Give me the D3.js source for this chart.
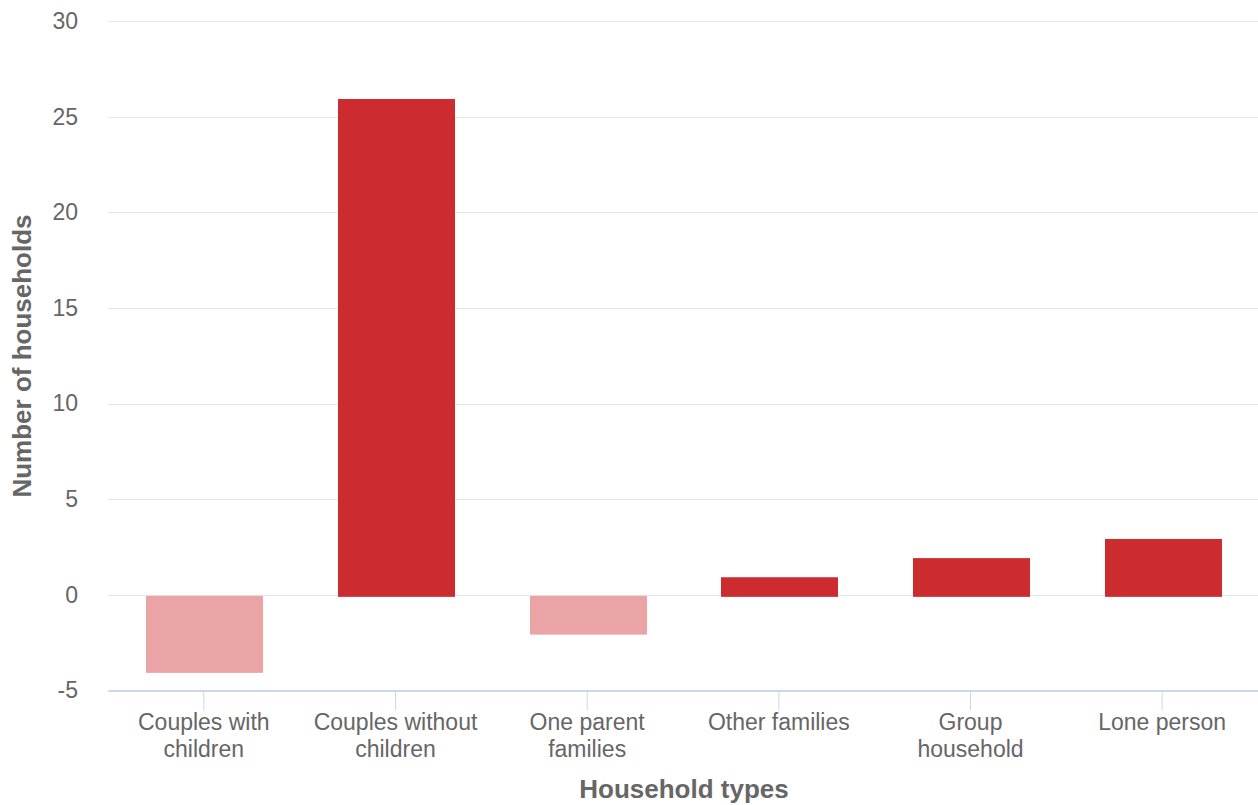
<!DOCTYPE html>
<html><head><meta charset="utf-8">
<script src="https://cdn.jsdelivr.net/npm/d3@7"></script>
<style>body{margin:0;background:#fff;} svg{display:block;font-family:"Liberation Sans",Arial,sans-serif;}</style>
</head><body><svg id="c" width="1258" height="805"></svg>
<script>
const categories = [["Couples with","children"],["Couples without","children"],["One parent","families"],["Other families"],["Group","household"],["Lone person"]];
const values = [-4, 26, -2, 1, 2, 3];
const yTicks = [-5, 0, 5, 10, 15, 20, 25, 30];
const posColor = "#cc2b30", negColor = "#eba4a6";

const svg = d3.select("#c");
const L = 108, R = 1258, T = 21, B = 690.5;
const x = d3.scaleBand().domain(d3.range(categories.length)).range([L, R]).paddingInner(0.39).paddingOuter(0.195);
const y = d3.scaleLinear().domain([-5, 30]).range([B, T]);

// grid
svg.append("g").selectAll("line").data(yTicks.filter(t => t !== -5)).join("line")
  .attr("x1", L).attr("x2", R).attr("y1", d => Math.round(y(d))+0.5).attr("y2", d => Math.round(y(d))+0.5)
  .attr("stroke", "#e6e6e6").attr("stroke-width", 1);

// y labels
const yAxis = d3.axisLeft(y).tickValues(yTicks).tickSize(0).tickPadding(0).tickFormat(d => String(d));
const gy = svg.append("g").attr("transform", `translate(${L-30},0)`).call(yAxis);
gy.select(".domain").remove();
gy.selectAll("text").attr("font-size", 23).attr("fill", "#666").attr("font-family", "Liberation Sans, Arial, sans-serif");

// bars
svg.append("g").selectAll("rect").data(values).join("rect")
  .attr("x", (d, i) => Math.round(x(i)) + 1)
  .attr("width", Math.round(x.bandwidth()))
  .attr("y", d => d >= 0 ? y(d) + 1.5 : y(0) + 1)
  .attr("height", d => Math.abs(y(d) - y(0)) + 0.5)
  .attr("fill", d => d >= 0 ? posColor : negColor);

// x axis
const xc = d3.scaleBand().domain(d3.range(categories.length)).range([L, R]);
const xAxis = d3.axisBottom(xc).tickSize(20).tickFormat("").tickSizeOuter(0);
const gx = svg.append("g").attr("transform", `translate(0,${B})`).call(xAxis);
gx.select(".domain").attr("stroke", "#ccd6eb").attr("stroke-width", 2);
gx.selectAll(".tick line").attr("stroke", "#ccd6eb").attr("stroke-width", 1);

svg.append("g").selectAll("text").data(categories).join("text")
  .attr("text-anchor", "middle").attr("font-size", 23).attr("fill", "#666")
  .each(function(lines, i) {
    const t = d3.select(this);
    lines.forEach((ln, j) => t.append("tspan").attr("x", xc(i) + xc.bandwidth()/2).attr("y", 730 + j*27).text(ln));
  });

// titles
svg.append("text").attr("x", 684).attr("y", 798).attr("text-anchor", "middle")
  .attr("font-size", 26).attr("font-weight", "bold").attr("fill", "#666").text("Household types");
svg.append("text").attr("transform", `translate(31,356) rotate(-90)`).attr("text-anchor", "middle")
  .attr("font-size", 26).attr("font-weight", "bold").attr("fill", "#666").text("Number of households");
</script></body></html>
